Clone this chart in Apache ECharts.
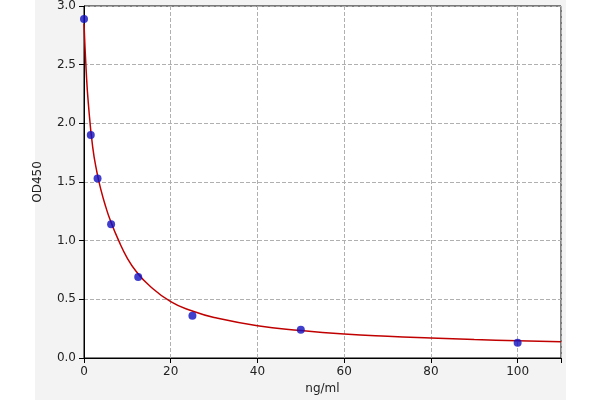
<!DOCTYPE html><html><head><meta charset="utf-8"><script src="https://cdn.jsdelivr.net/npm/echarts@6/dist/echarts.min.js"></script></head><body style="margin:0;background:#fff"><div id="c" style="width:600px;height:400px"></div><script>
const pointX=[0,1.5625,3.125,6.25,12.5,25,50,100];
const pointY=[2.89,1.90,1.53,1.14,0.69,0.36,0.24,0.13];
const curveX=[0,0.5,1,2,3,4,5,6,8,10,12,15,20,25,30,40,50,60,70,80,90,100,110];
const curveY=[2.85,2.45,2.17,1.8,1.58,1.42,1.29,1.18,1.0,0.85,0.74,0.62,0.48,0.4,0.345,0.275,0.235,0.205,0.185,0.17,0.157,0.147,0.138];
const xTicks=[0,20,40,60,80,100];
const ch=echarts.init(document.getElementById('c'));
const ax={color:'#222',fontSize:12,fontFamily:'DejaVu Sans'};
ch.setOption({
 animation:false,
 graphic:[{type:'rect',z:-10,shape:{x:35,y:0,width:531,height:400},style:{fill:'#f3f3f3'}}],
 grid:{left:84,right:39,top:6,bottom:42,backgroundColor:'#fff',show:true,borderColor:'#000',borderWidth:1},
 xAxis:{type:'value',min:0,max:110,interval:20,name:'ng/ml',nameLocation:'middle',nameGap:24,nameTextStyle:ax,
  axisLabel:Object.assign({formatter:v=>xTicks.includes(v)?String(v):''},ax),axisLine:{lineStyle:{color:'#000'}},axisTick:{show:true,lineStyle:{color:'#000'}},
  splitLine:{show:true,lineStyle:{type:'dashed',color:'#b0b0b0'}}},
 yAxis:{type:'value',min:0,max:3,interval:0.5,name:'OD450',nameLocation:'middle',nameGap:40,nameTextStyle:ax,
  axisLabel:Object.assign({formatter:v=>v.toFixed(1)},ax),axisLine:{show:true,lineStyle:{color:'#000'}},axisTick:{show:true,lineStyle:{color:'#000'}},
  splitLine:{show:true,lineStyle:{type:'dashed',color:'#b0b0b0'}}},
 series:[
  {type:'line',data:curveX.map((x,i)=>[x,curveY[i]]),smooth:true,showSymbol:false,lineStyle:{color:'#c00000',width:1.5},z:2},
  {type:'scatter',data:pointX.map((x,i)=>[x,pointY[i]]),symbolSize:8,itemStyle:{color:'#1010c0'},z:3}
 ]
});
</script></body></html>
